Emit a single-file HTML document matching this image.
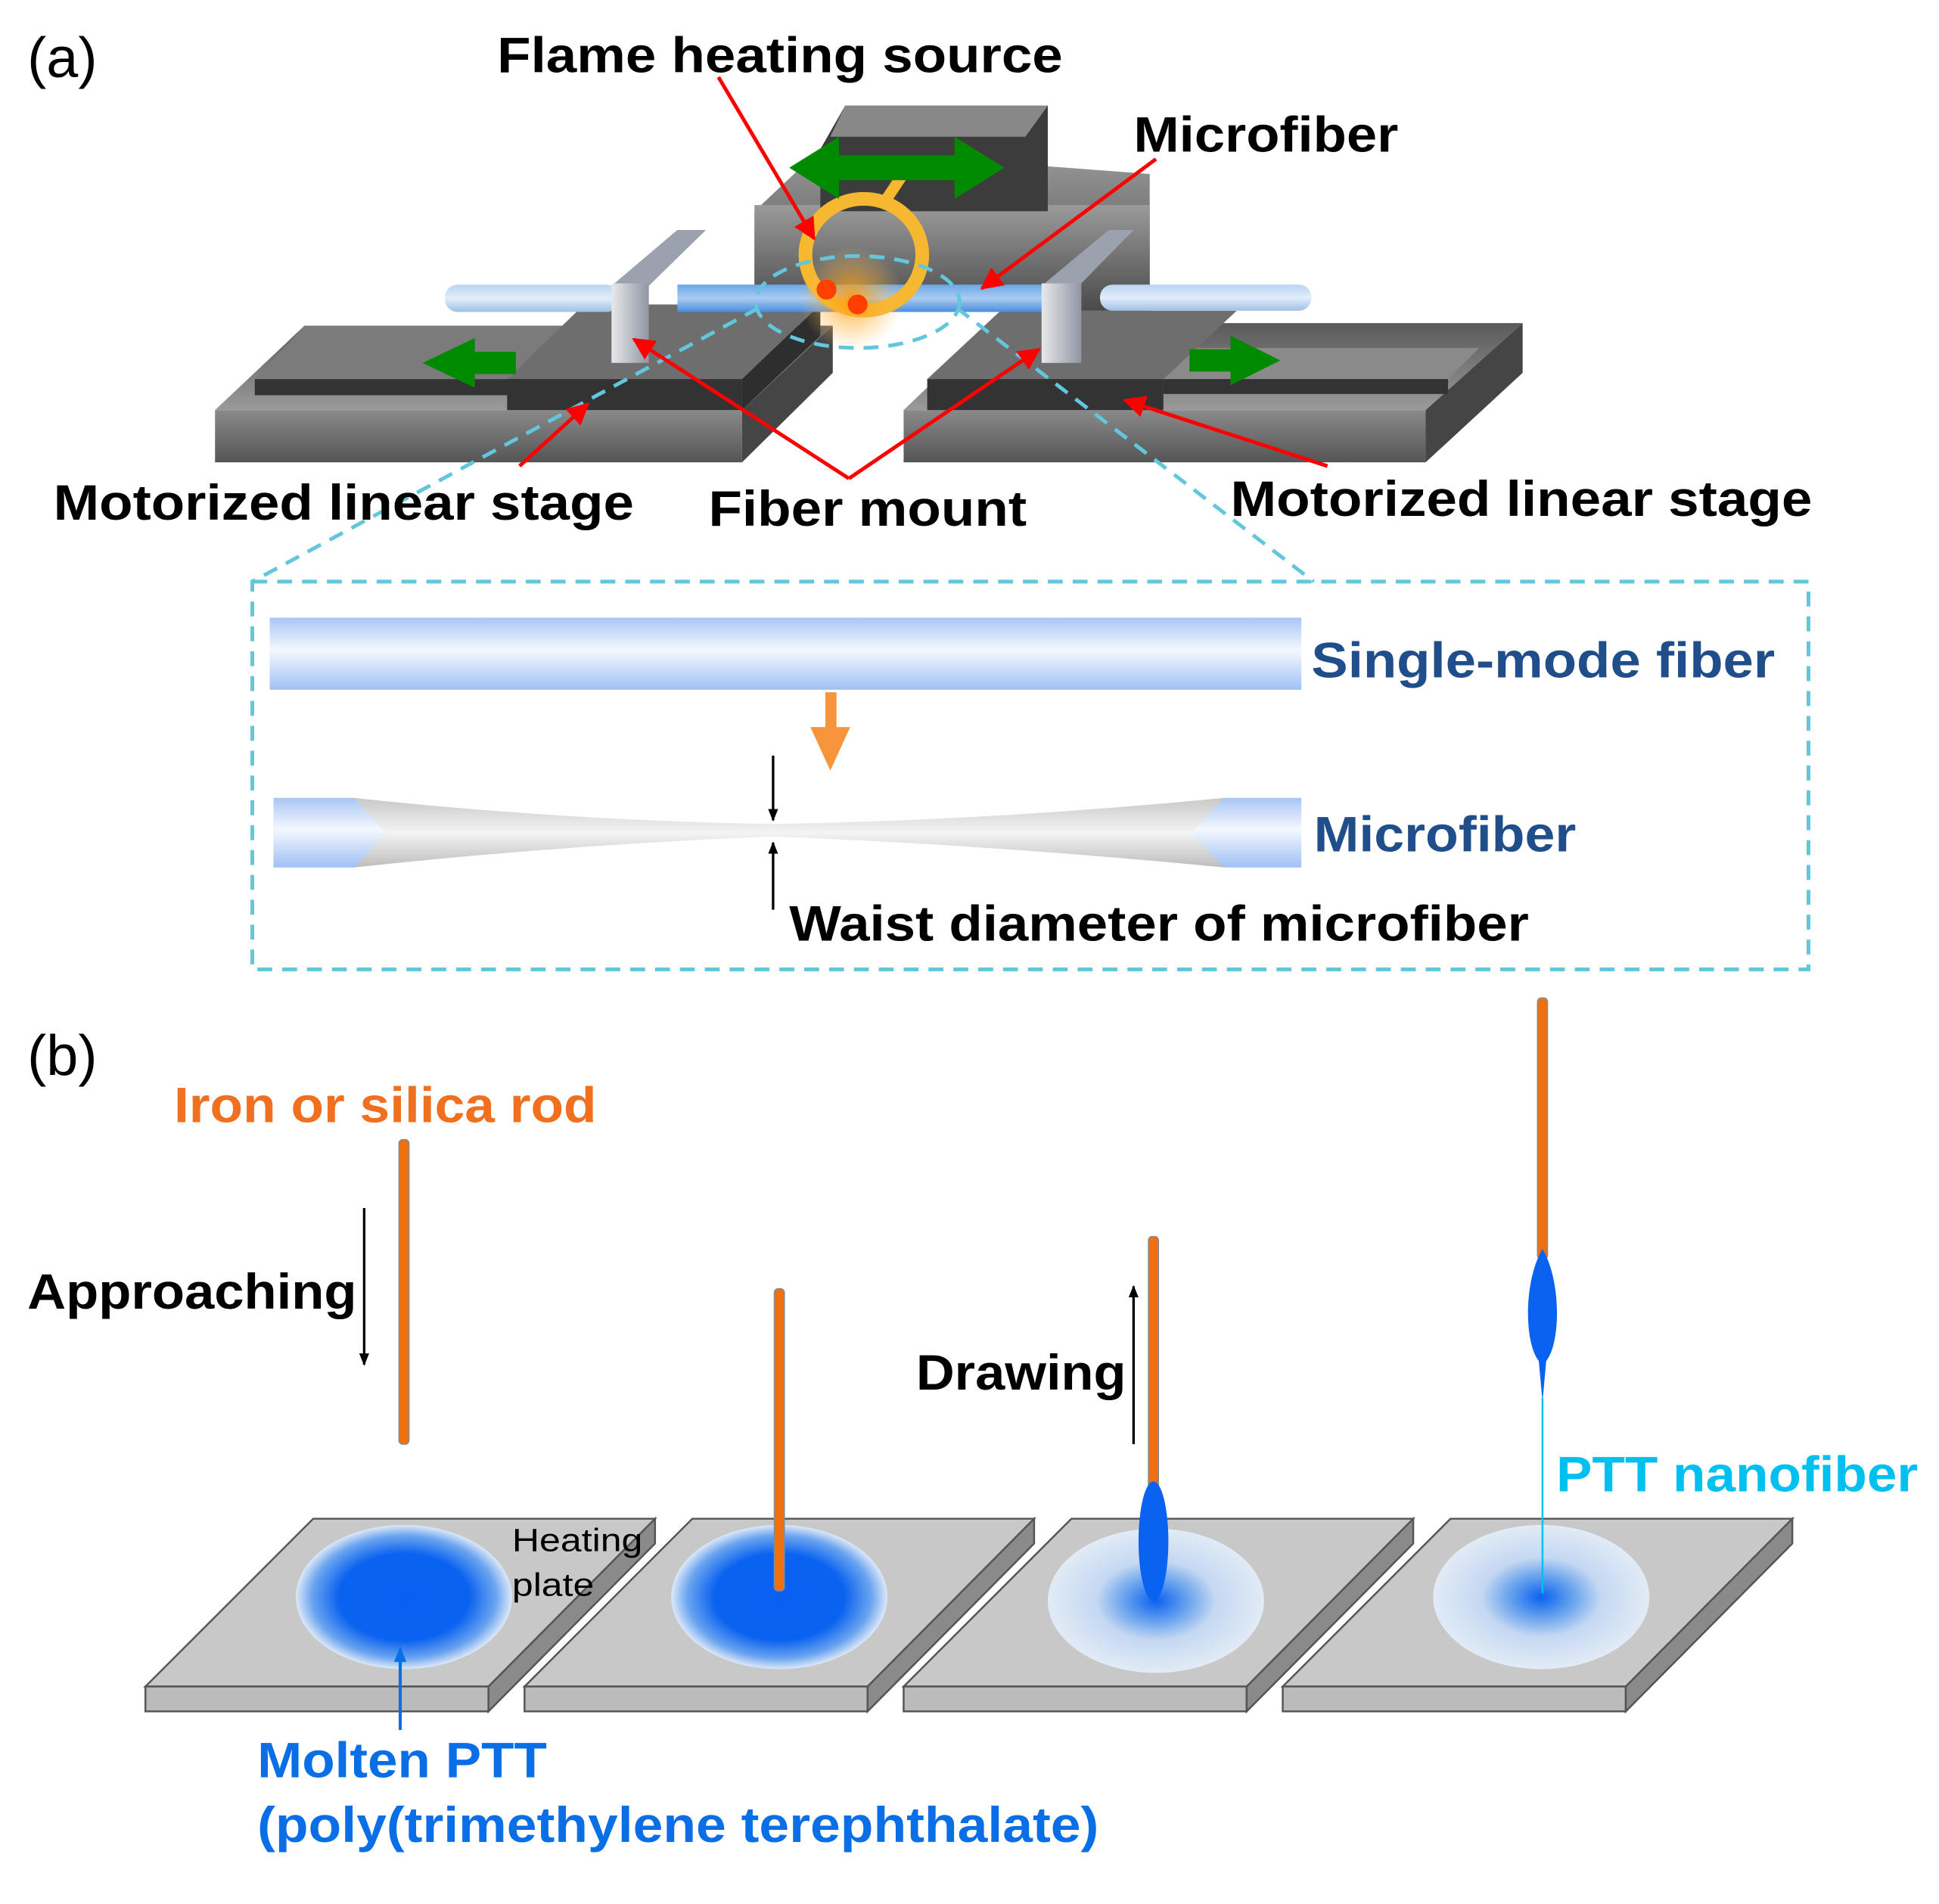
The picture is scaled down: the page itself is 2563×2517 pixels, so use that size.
<!DOCTYPE html>
<html><head><meta charset="utf-8"><style>
html,body{margin:0;padding:0;background:#fff}
svg{display:block}
text{font-family:"Liberation Sans",Arial,sans-serif;font-weight:bold}
</style></head><body>
<svg width="2563" height="2517" viewBox="0 0 1560 1532" preserveAspectRatio="none" xmlns="http://www.w3.org/2000/svg">
<defs>
<linearGradient id="top" x1="0" y1="0" x2="0" y2="1"><stop offset="0" stop-color="#5a5a5a"/><stop offset="1" stop-color="#9a9a9a"/></linearGradient>
<linearGradient id="front" x1="0" y1="0" x2="0" y2="1"><stop offset="0" stop-color="#8a8a8a"/><stop offset="1" stop-color="#555"/></linearGradient>
<linearGradient id="blk" x1="0" y1="0" x2="0" y2="1"><stop offset="0" stop-color="#9a9a9a"/><stop offset="1" stop-color="#4a4a4a"/></linearGradient>
<linearGradient id="tube" x1="0" y1="0" x2="0" y2="1"><stop offset="0" stop-color="#b9d4ef"/><stop offset="0.5" stop-color="#e2eefa"/><stop offset="1" stop-color="#9fc0e6"/></linearGradient>
<linearGradient id="tube2" x1="0" y1="0" x2="0" y2="1"><stop offset="0" stop-color="#6aa6e6"/><stop offset="0.5" stop-color="#a9ccf2"/><stop offset="1" stop-color="#4a8ddc"/></linearGradient>
<linearGradient id="smf" x1="0" y1="0" x2="0" y2="1"><stop offset="0" stop-color="#a8c6f5"/><stop offset="0.45" stop-color="#f4f8fe"/><stop offset="1" stop-color="#a0c0f5"/></linearGradient>
<linearGradient id="mount" x1="0" y1="0" x2="1" y2="0"><stop offset="0" stop-color="#e8e8ea"/><stop offset="1" stop-color="#8f96a2"/></linearGradient>
<linearGradient id="taper" x1="0" y1="0" x2="0" y2="1"><stop offset="0" stop-color="#c8c8c8"/><stop offset="0.5" stop-color="#f4f4f4"/><stop offset="1" stop-color="#bdbdbd"/></linearGradient>
<radialGradient id="glow"><stop offset="0" stop-color="#ff9a00" stop-opacity="0.9"/><stop offset="1" stop-color="#ffc060" stop-opacity="0"/></radialGradient>
<radialGradient id="dark"><stop offset="0" stop-color="#0a5ff0"/><stop offset="0.6" stop-color="#0a62f0"/><stop offset="0.85" stop-color="#6aa4f0"/><stop offset="1" stop-color="#dce8f8"/></radialGradient>
<radialGradient id="light"><stop offset="0" stop-color="#0a62f0"/><stop offset="0.3" stop-color="#6aa4ee"/><stop offset="0.55" stop-color="#c4d8f2"/><stop offset="1" stop-color="#e2ebf6"/></radialGradient>
<marker id="ar" viewBox="0 0 10 10" refX="9" refY="5" markerWidth="6" markerHeight="6" orient="auto"><path d="M0,0L10,5L0,10z" fill="#f00"/></marker>
<marker id="ak" viewBox="0 0 10 10" refX="9" refY="5" markerWidth="5" markerHeight="7" orient="auto"><path d="M0,1L10,5L0,9z" fill="#000"/></marker>
<marker id="ab" viewBox="0 0 10 10" refX="9" refY="5" markerWidth="5" markerHeight="7" orient="auto"><path d="M0,1L10,5L0,9z" fill="#0a6ee6"/></marker>
</defs>

<text x="22" y="62" font-size="46" style="font-weight:normal">(a)</text>

<polygon points="607,170 660,120 925,140 925,250 607,250" fill="url(#blk)"/>
<rect x="607" y="165" width="318" height="85" fill="url(#blk)"/>
<polygon points="660,120 680,85 843,85 843,170 660,170" fill="#3c3c3c"/>
<polygon points="680,85 843,85 825,110 668,110" fill="#888"/>

<polygon points="173,330 597,330 670,262 245,262" fill="url(#top)"/>
<rect x="173" y="330" width="424" height="42" fill="url(#front)"/>
<polygon points="597,330 670,262 670,300 597,372" fill="#454545"/>
<rect x="205" y="305" width="215" height="13" fill="#333"/>
<polygon points="205,305 420,305 470,262 245,262" fill="#7b7b7b"/>
<polygon points="408,305 597,305 660,245 470,245" fill="#6e6e6e"/>
<rect x="408" y="305" width="189" height="25" fill="#333"/>
<polygon points="597,305 660,245 660,270 597,330" fill="#2e2e2e"/>

<polygon points="727,330 1147,330 1225,260 800,260" fill="url(#top)"/>
<rect x="727" y="330" width="420" height="42" fill="url(#front)"/>
<polygon points="1147,330 1225,260 1225,300 1147,372" fill="#454545"/>
<polygon points="936,305 1165,305 1190,280 960,280" fill="#8a8a8a"/>
<rect x="936" y="305" width="229" height="12" fill="#333"/>
<polygon points="746,305 936,305 995,250 805,250" fill="#6e6e6e"/>
<rect x="746" y="305" width="190" height="25" fill="#333"/>

<rect x="358" y="229" width="140" height="22" rx="10" fill="url(#tube)"/>
<rect x="545" y="229" width="300" height="22" fill="url(#tube2)"/>
<rect x="885" y="229" width="170" height="21" rx="10" fill="url(#tube)"/>
<polygon points="492,230 545,185 568,185 522,230" fill="#9aa2ae"/>
<rect x="492" y="228" width="30" height="64" fill="url(#mount)"/>
<polygon points="838,230 892,185 912,185 868,230" fill="#9aa2ae"/>
<rect x="838" y="228" width="32" height="64" fill="url(#mount)"/>

<line x1="710" y1="165" x2="732" y2="132" stroke="#f5b830" stroke-width="9"/>
<ellipse cx="695" cy="205" rx="47" ry="45" fill="none" stroke="#f5b830" stroke-width="11"/>
<circle cx="685" cy="240" r="42" fill="url(#glow)"/>
<circle cx="665" cy="233" r="8" fill="#ff4000"/>
<circle cx="690" cy="245" r="8" fill="#ff4000"/>

<polygon points="635,135 675,110 675,125 768,125 768,110 808,135 768,160 768,145 675,145 675,160" fill="#008a00"/>
<polygon points="340,292 382,272 382,283 415,283 415,301 382,301 382,312" fill="#008a00"/>
<polygon points="1030,290 990,270 990,281 957,281 957,299 990,299 990,310" fill="#008a00"/>

<g stroke="#62c6dc" stroke-width="3" stroke-dasharray="12,8" fill="none">
<ellipse cx="690" cy="243" rx="82" ry="37"/>
<line x1="610" y1="248" x2="203" y2="468"/>
<line x1="770" y1="248" x2="1057" y2="468"/>
<rect x="203" y="468" width="1252" height="312"/>
</g>

<g stroke="#f00" stroke-width="3" fill="none">
<line x1="578" y1="62" x2="655" y2="192" marker-end="url(#ar)"/>
<line x1="930" y1="128" x2="790" y2="232" marker-end="url(#ar)"/>
<line x1="683" y1="385" x2="510" y2="273" marker-end="url(#ar)"/>
<line x1="683" y1="385" x2="836" y2="281" marker-end="url(#ar)"/>
<line x1="418" y1="375" x2="473" y2="325" marker-end="url(#ar)"/>
<line x1="1068" y1="375" x2="905" y2="322" marker-end="url(#ar)"/>
</g>

<g lengthAdjust="spacingAndGlyphs">
<text x="400" y="58" font-size="40" textLength="455" lengthAdjust="spacingAndGlyphs">Flame heating source</text>
<text x="912" y="122" font-size="40" textLength="213" lengthAdjust="spacingAndGlyphs">Microfiber</text>
<text x="43" y="418" font-size="40" textLength="467" lengthAdjust="spacingAndGlyphs">Motorized linear stage</text>
<text x="570" y="423" font-size="40" textLength="256" lengthAdjust="spacingAndGlyphs">Fiber mount</text>
<text x="990" y="415" font-size="40" textLength="468" lengthAdjust="spacingAndGlyphs">Motorized linear stage</text>
</g>

<rect x="217" y="497" width="830" height="58" fill="url(#smf)"/>
<text x="1055" y="545" font-size="40" fill="#1f4e8a" textLength="373" lengthAdjust="spacingAndGlyphs">Single-mode fiber</text>
<rect x="664" y="557" width="9" height="30" fill="#f7943c"/>
<polygon points="652,585 684,585 668,620" fill="#f7943c"/>
<path d="M285,642 Q450,660 622,663 Q800,660 985,642 L985,698 Q800,680 622,673 Q450,680 285,698 Z" fill="url(#taper)"/>
<polygon points="220,642 285,642 310,670 285,698 220,698" fill="url(#smf)"/>
<polygon points="985,642 1047,642 1047,698 985,698 958,670" fill="url(#smf)"/>
<line x1="622" y1="608" x2="622" y2="660" stroke="#000" stroke-width="2" marker-end="url(#ak)"/>
<line x1="622" y1="732" x2="622" y2="678" stroke="#000" stroke-width="2" marker-end="url(#ak)"/>
<text x="1057" y="685" font-size="40" fill="#1f4e8a" textLength="211" lengthAdjust="spacingAndGlyphs">Microfiber</text>
<text x="635" y="757" font-size="40" textLength="595" lengthAdjust="spacingAndGlyphs">Waist diameter of microfiber</text>

<text x="22" y="865" font-size="46" style="font-weight:normal">(b)</text>
<text x="140" y="903" font-size="40" fill="#f07020" textLength="340" lengthAdjust="spacingAndGlyphs">Iron or silica rod</text>
<text x="22" y="1053" font-size="40" textLength="265" lengthAdjust="spacingAndGlyphs">Approaching</text>
<line x1="293" y1="972" x2="293" y2="1098" stroke="#000" stroke-width="2" marker-end="url(#ak)"/>
<text x="737" y="1118" font-size="40" textLength="169" lengthAdjust="spacingAndGlyphs">Drawing</text>
<line x1="912" y1="1162" x2="912" y2="1035" stroke="#000" stroke-width="2" marker-end="url(#ak)"/>

<g id="plate">
<polygon points="117,1357 393,1357 527,1222 252,1222" fill="#c8c8c8" stroke="#555" stroke-width="1.5"/>
<rect x="117" y="1357" width="276" height="20" fill="#bbb" stroke="#555" stroke-width="1.5"/>
<polygon points="393,1357 527,1222 527,1242 393,1377" fill="#8a8a8a" stroke="#555" stroke-width="1.5"/>
</g>
<use href="#plate" x="305"/>
<use href="#plate" x="610"/>
<use href="#plate" x="915"/>

<ellipse cx="325" cy="1285" rx="87" ry="58" fill="url(#dark)"/>
<ellipse cx="627" cy="1285" rx="87" ry="58" fill="url(#dark)"/>
<ellipse cx="930" cy="1288" rx="87" ry="58" fill="url(#light)"/>
<ellipse cx="1240" cy="1285" rx="87" ry="58" fill="url(#light)"/>

<text x="412" y="1248" font-size="26" style="font-weight:normal" textLength="105" lengthAdjust="spacingAndGlyphs">Heating</text>
<text x="412" y="1284" font-size="26" style="font-weight:normal" textLength="66" lengthAdjust="spacingAndGlyphs">plate</text>

<g fill="#f07010" stroke="#8a8a8a" stroke-width="1">
<rect x="321" y="917" width="8" height="245" rx="3"/>
<rect x="623" y="1037" width="8" height="243" rx="3"/>
<rect x="924" y="995" width="8" height="205" rx="3"/>
<rect x="1237" y="803" width="8" height="210" rx="3"/>
</g>
<ellipse cx="928" cy="1240" rx="12" ry="48" fill="#0a62f0"/>
<path d="M1241,1005 C1256,1030 1256,1080 1244,1095 L1241,1128 L1238,1095 C1226,1080 1226,1030 1241,1005Z" fill="#0a62f0"/>
<line x1="1241" y1="1125" x2="1241" y2="1282" stroke="#00c0f0" stroke-width="1.5"/>
<text x="1252" y="1200" font-size="40" fill="#00c0f0" textLength="291" lengthAdjust="spacingAndGlyphs">PTT nanofiber</text>

<line x1="322" y1="1392" x2="322" y2="1326" stroke="#0a6ee6" stroke-width="2.5" marker-end="url(#ab)"/>
<text x="207" y="1430" font-size="40" fill="#0a6ee6" textLength="233" lengthAdjust="spacingAndGlyphs">Molten PTT</text>
<text x="207" y="1482" font-size="40" fill="#0a6ee6" textLength="677" lengthAdjust="spacingAndGlyphs">(poly(trimethylene terephthalate)</text>
</svg>
</body></html>
